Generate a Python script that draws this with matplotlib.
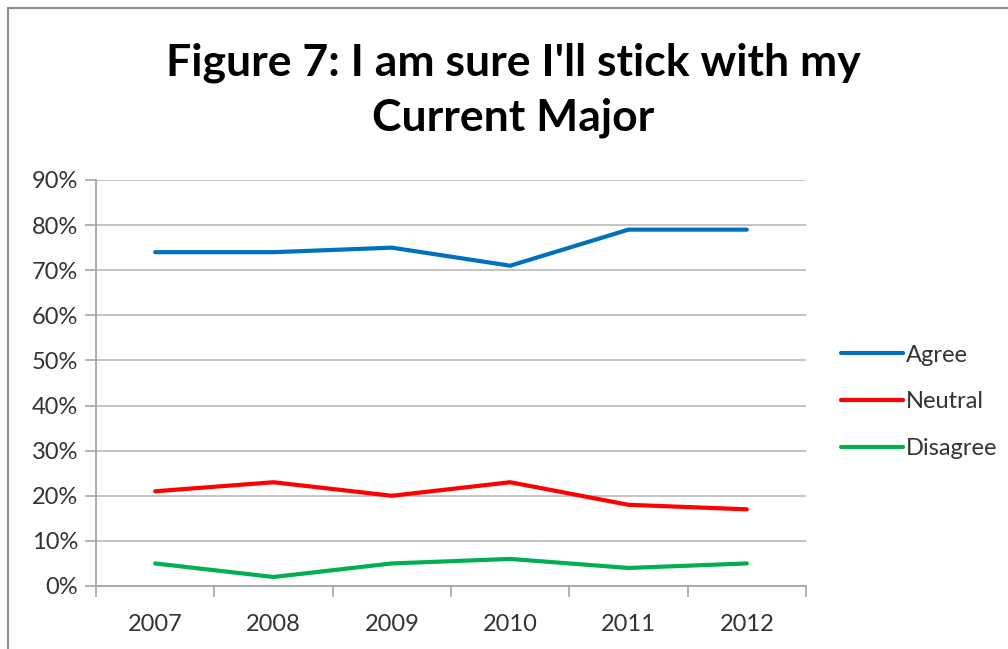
import matplotlib
matplotlib.use("Agg")
import matplotlib.pyplot as plt
from matplotlib.patches import Rectangle

years = ["2007", "2008", "2009", "2010", "2011", "2012"]
agree = [74, 74, 75, 71, 79, 79]
neutral = [21, 23, 20, 23, 18, 17]
disagree = [5, 2, 5, 6, 4, 5]
yticks = [0, 10, 20, 30, 40, 50, 60, 70, 80, 90]
ytick_labels = [f"{v}%" for v in yticks]

plt.rcParams['font.family'] = ['Lato', 'DejaVu Sans']

W, H = 1008, 649
fig = plt.figure(figsize=(W / 100, H / 100), dpi=100)
fig.patch.set_facecolor("white")

# outer frame
fig.add_artist(Rectangle((8 / W, -0.5), 1.5, 1 - 8 / H + 0.5, transform=fig.transFigure,
                         fill=False, edgecolor="#8c8c8c", linewidth=1.5))

ax = fig.add_axes([96 / W, 1 - 586 / H, (806 - 96) / W, (586 - 180) / H])
x = list(range(len(years)))
ax.plot(x, agree, color="#0070C0", lw=3, label="Agree", solid_capstyle="round")
ax.plot(x, neutral, color="#FF0000", lw=3, label="Neutral", solid_capstyle="round")
ax.plot(x, disagree, color="#00B050", lw=3, label="Disagree", solid_capstyle="round")

ax.set_xlim(-0.5, len(years) - 0.5)
ax.set_ylim(0, 90)
ax.set_yticks(yticks)
ax.set_yticklabels(ytick_labels)
ax.set_xticks(x)
ax.set_xticklabels(years)
ax.set_xticks([i - 0.5 for i in range(len(years) + 1)], minor=True)
ax.tick_params(axis="x", which="major", length=0, pad=20, labelsize=17, labelcolor="#333333")
ax.tick_params(axis="x", which="minor", length=8, width=1.2, color="#a6a6a6")
ax.tick_params(axis="y", length=8, width=1.2, color="#a6a6a6", labelsize=17, labelcolor="#333333", pad=5)
ax.yaxis.grid(True, color="#bfbfbf", lw=1.3)
ax.set_axisbelow(True)
for s in ["top", "right"]:
    ax.spines[s].set_visible(False)
for s in ["left", "bottom"]:
    ax.spines[s].set_color("#a6a6a6")
    ax.spines[s].set_linewidth(1.3)

leg = fig.legend(loc="center left", bbox_to_anchor=(820 / W, 1 - 402 / H), frameon=False,
                 fontsize=17, handlelength=2.6, handletextpad=0.15, labelspacing=1.1)
for t in leg.get_texts():
    t.set_color("#333333")

fig.text(513 / W, 1 - 90 / H, "Figure 7: I am sure I'll stick with my\nCurrent Major",
         ha="center", va="center", fontsize=32, fontweight="bold", linespacing=1.45,
         color="black")

fig.savefig("out.png", dpi=100)
